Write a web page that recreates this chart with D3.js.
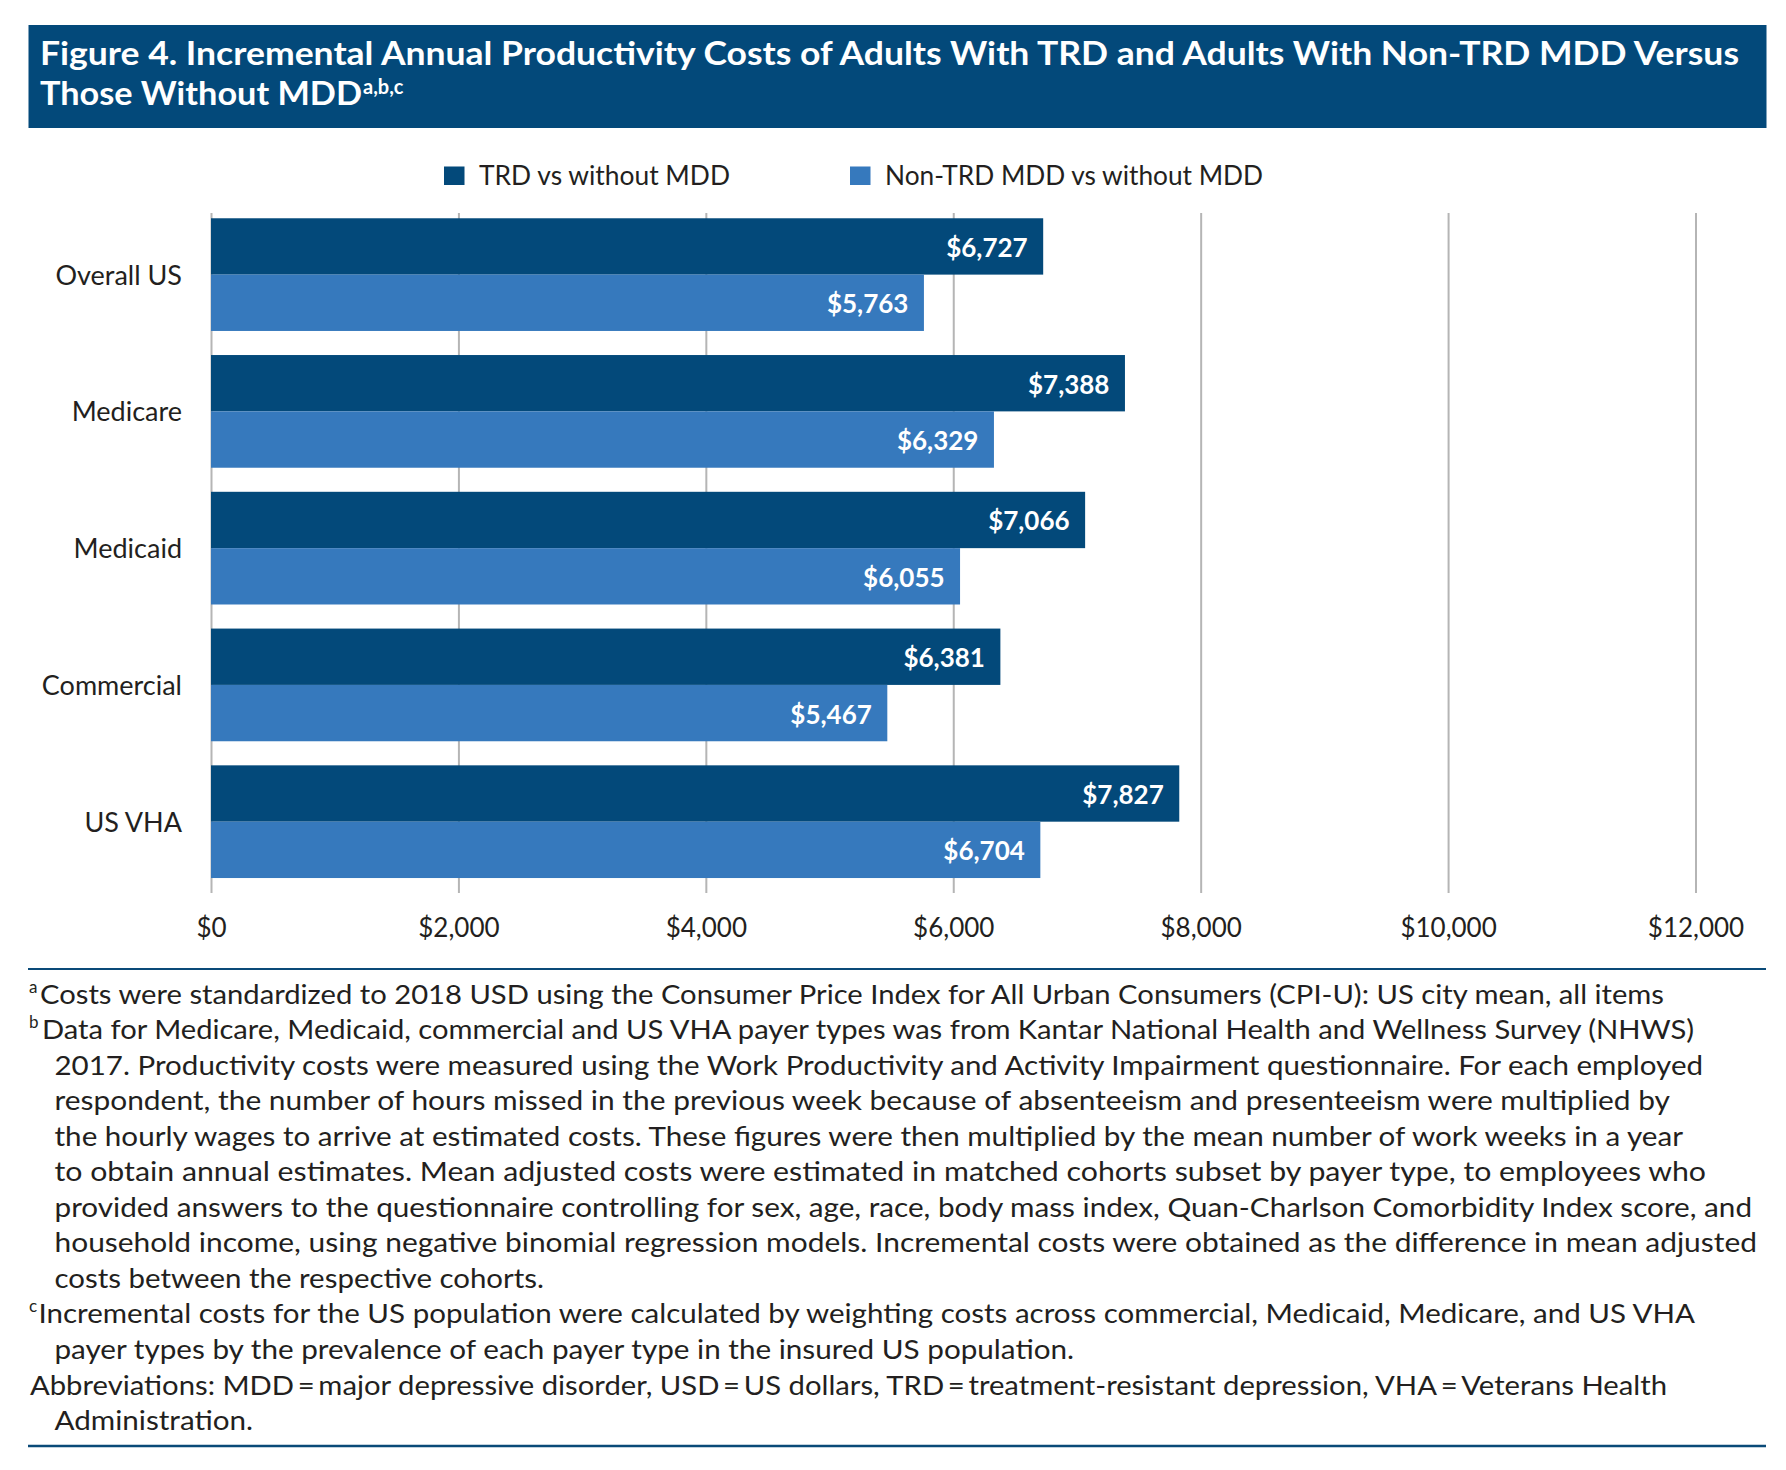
<!DOCTYPE html>
<html>
<head>
<meta charset="utf-8">
<script src="https://cdnjs.cloudflare.com/ajax/libs/d3/7.8.5/d3.min.js"></script>
<style>
  body { margin: 0; background: #fff; }
  text { font-family: Lato, "Open Sans", sans-serif; fill: #231f20; }
</style>
</head>
<body>
<svg id="chart"></svg>
<script>
// chart values
var categories = ["Overall US", "Medicare", "Medicaid", "Commercial", "US VHA"];
var seriesNames = ["TRD vs without MDD", "Non-TRD MDD vs without MDD"];
var trdValues = [6727, 7388, 7066, 6381, 7827];
var nonTrdValues = [5763, 6329, 6055, 5467, 6704];
var xTicks = [0, 2000, 4000, 6000, 8000, 10000, 12000];

var titleLines = ["Figure 4. Incremental Annual Productivity Costs of Adults With TRD and Adults With Non-TRD MDD Versus",
                  "Those Without MDD"];
var titleSup = "a,b,c";

var footSups = ["a", "b", "", "", "", "", "", "", "", "c", "", "", ""];
var footLines = [
  "Costs were standardized to 2018 USD using the Consumer Price Index for All Urban Consumers (CPI-U): US city mean, all items",
  "Data for Medicare, Medicaid, commercial and US VHA payer types was from Kantar National Health and Wellness Survey (NHWS)",
  "2017. Productivity costs were measured using the Work Productivity and Activity Impairment questionnaire. For each employed",
  "respondent, the number of hours missed in the previous week because of absenteeism and presenteeism were multiplied by",
  "the hourly wages to arrive at estimated costs. These figures were then multiplied by the mean number of work weeks in a year",
  "to obtain annual estimates. Mean adjusted costs were estimated in matched cohorts subset by payer type, to employees who",
  "provided answers to the questionnaire controlling for sex, age, race, body mass index, Quan-Charlson Comorbidity Index score, and",
  "household income, using negative binomial regression models. Incremental costs were obtained as the difference in mean adjusted",
  "costs between the respective cohorts.",
  "Incremental costs for the US population were calculated by weighting costs across commercial, Medicaid, Medicare, and US VHA",
  "payer types by the prevalence of each payer type in the insured US population.",
  "Abbreviations: MDD\u2009=\u2009major depressive disorder, USD\u2009=\u2009US dollars, TRD\u2009=\u2009treatment-resistant depression, VHA\u2009=\u2009Veterans Health",
  "Administration."
];
// layout: start and end x of each footnote line
var footStarts = [40, 42, 54.5, 54.5, 54.5, 54.5, 54.5, 54.5, 54.5, 38.5, 54.5, 30, 54.5];
var footEnds = [1664, 1694, 1703, 1670, 1683, 1706, 1752, 1757, 544, 1695, 1074, 1667, 253];

var W = 1786, H = 1470;
var navy = "#03497a", lightBlue = "#3679bd";
var colors = [navy, lightBlue];

var svg = d3.select("#chart").attr("width", W).attr("height", H);
svg.append("rect").attr("width", W).attr("height", H).attr("fill", "#fff");

// title banner
svg.append("rect").attr("x", 28.5).attr("y", 25).attr("width", 1738).attr("height", 103).attr("fill", navy);
svg.append("text").attr("x", 40).attr("y", 65).text(titleLines[0])
  .style("font-size", "33px").style("font-weight", 700).style("fill", "#fff")
  .attr("textLength", 1699).attr("lengthAdjust", "spacingAndGlyphs");
svg.append("text").attr("x", 40).attr("y", 105).text(titleLines[1])
  .style("font-size", "33px").style("font-weight", 700).style("fill", "#fff")
  .attr("textLength", 322).attr("lengthAdjust", "spacingAndGlyphs");
svg.append("text").attr("x", 363).attr("y", 94).text(titleSup)
  .style("font-size", "20px").style("font-weight", 700).style("fill", "#fff");

// legend
var legendX = [444, 850];
var legendEnd = [730, 1263];
seriesNames.forEach(function(name, i) {
  svg.append("rect").attr("x", legendX[i]).attr("y", 166.5).attr("width", 20.5).attr("height", 18.5).attr("fill", colors[i]);
  svg.append("text").attr("x", legendX[i] + 35).attr("y", 184.5).text(name)
    .style("font-size", "26px")
    .attr("textLength", legendEnd[i] - legendX[i] - 35).attr("lengthAdjust", "spacingAndGlyphs");
});

// scales
var x = d3.scaleLinear().domain([0, 12000]).range([211, 1695.5]);
var y = d3.scaleBand().domain(categories).range([212.8, 883.5]).paddingInner(0.176).paddingOuter(0.04);
var ySub = d3.scaleBand().domain([0, 1]).range([0, y.bandwidth()]);

var gridTop = 213, gridBottom = 893;

// gridlines + tick labels
var xAxis = d3.axisBottom(x).tickValues(xTicks)
  .tickSizeInner(-(gridBottom - gridTop)).tickSizeOuter(0)
  .tickFormat(function(d) { return "$" + d3.format(",")(d); });
var gx = svg.append("g").attr("transform", "translate(0," + gridBottom + ")").call(xAxis);
gx.select(".domain").remove();
gx.selectAll(".tick line").attr("stroke", "#b5b5b5").attr("stroke-width", 2);
gx.selectAll(".tick text").attr("y", 43.5).attr("dy", 0)
  .style("font-size", "26px").style("fill", "#231f20").attr("font-family", null);

// bars
var rows = categories.map(function(c, i) { return { cat: c, vals: [trdValues[i], nonTrdValues[i]] }; });
var groups = svg.selectAll(".grp").data(rows).enter().append("g")
  .attr("class", "grp")
  .attr("transform", function(d) { return "translate(0," + y(d.cat) + ")"; });

var bars = groups.selectAll(".bar").data(function(d) {
    return d.vals.map(function(v, k) { return { v: v, k: k }; });
  }).enter();

bars.append("rect")
  .attr("x", x(0))
  .attr("y", function(d) { return ySub(d.k); })
  .attr("width", function(d) { return x(d.v) - x(0); })
  .attr("height", ySub.bandwidth())
  .attr("fill", function(d) { return colors[d.k]; });

bars.append("text")
  .attr("x", function(d) { return x(d.v) - 15.5; })
  .attr("y", function(d) { return ySub(d.k) + ySub.bandwidth() / 2 + 10.5; })
  .attr("text-anchor", "end")
  .style("font-size", "26px").style("font-weight", 700).style("fill", "#fff")
  .text(function(d) { return "$" + d3.format(",")(d.v); });

// category labels
groups.append("text")
  .attr("x", 182)
  .attr("y", y.bandwidth() / 2 + 10)
  .attr("text-anchor", "end")
  .style("font-size", "27px")
  .text(function(d) { return d.cat; });

// footnotes
svg.append("line").attr("x1", 28).attr("x2", 1766).attr("y1", 969).attr("y2", 969)
  .attr("stroke", "#0a4a78").attr("stroke-width", 2);

var lineH = 35.55, base0 = 1003.5;
footLines.forEach(function(t, i) {
  var yy = base0 + i * lineH;
  if (footSups[i]) {
    svg.append("text").attr("x", 29).attr("y", yy - 11).text(footSups[i]).style("font-size", "17px");
  }
  svg.append("text").attr("x", footStarts[i]).attr("y", yy).text(t)
    .style("font-size", "26.5px")
    .attr("textLength", footEnds[i] - footStarts[i]).attr("lengthAdjust", "spacingAndGlyphs");
});

svg.append("line").attr("x1", 28).attr("x2", 1766).attr("y1", 1446).attr("y2", 1446)
  .attr("stroke", "#0a4a78").attr("stroke-width", 2.5);
</script>
</body>
</html>
